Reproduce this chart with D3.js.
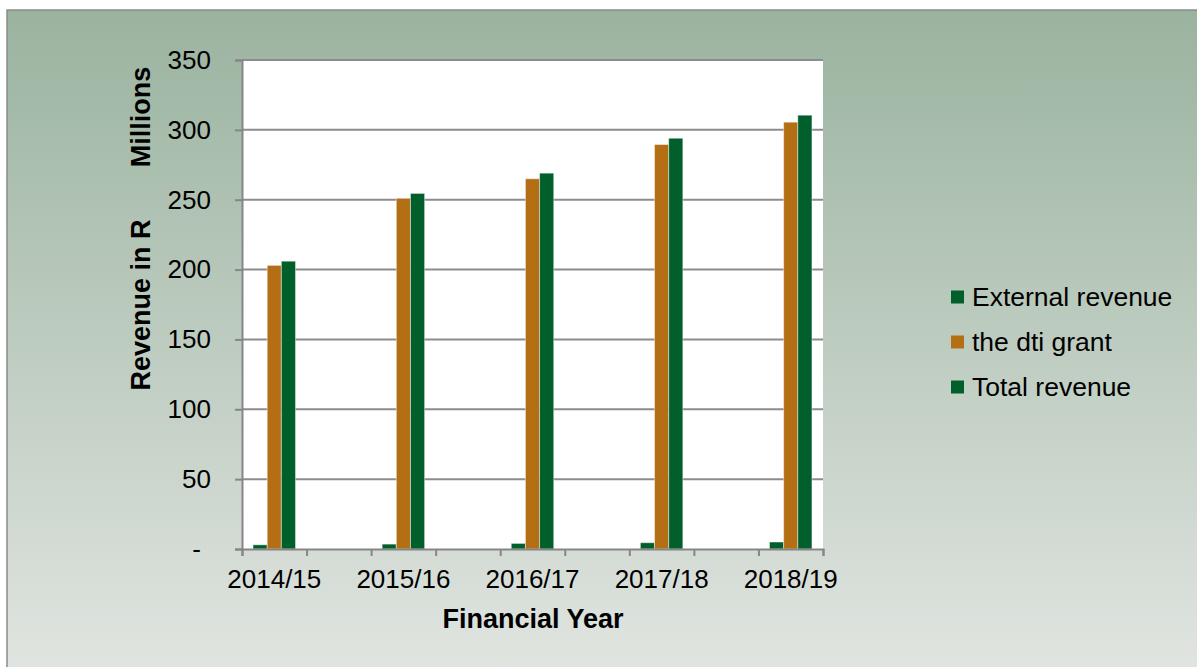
<!DOCTYPE html>
<html lang="en">
<head>
<meta charset="UTF-8">
<title>Revenue by Financial Year</title>
<script src="https://cdn.jsdelivr.net/npm/d3@7/dist/d3.min.js"></script>
<style>
  body { margin: 0; background: #fff; }
  text { font-family: "Liberation Sans", Arial, sans-serif; fill: #000; }
  .tick text { font-size: 26px; }
  .title { font-size: 27px; font-weight: bold; }
  .legend text { font-size: 26.5px; }
</style>
</head>
<body>
<script>
  // chart data (R millions)
  var years = ["2014/15", "2015/16", "2016/17", "2017/18", "2018/19"];
  var seriesNames = ["External revenue", "the dti grant", "Total revenue"];
  var external = [3.0, 3.5, 4.0, 4.5, 5.0];
  var dtiGrant = [203, 251, 265, 289.5, 305.5];
  var total = [206, 254.5, 269, 294, 310.5];
  var yTicks = [0, 50, 100, 150, 200, 250, 300, 350];

  var colors = d3.scaleOrdinal()
      .domain(seriesNames)
      .range(["#005f2b", "#b46e14", "#005f2b"]);

  var width = 1197, height = 667;
  var plotL = 242, plotR = 823, plotT = 60, plotB = 549;

  var svg = d3.select('body').append('svg')
      .attr('width', width).attr('height', height);

  var grad = svg.append('defs').append('linearGradient')
      .attr('id', 'bg').attr('x1', 0).attr('y1', 0).attr('x2', 0).attr('y2', 1);
  grad.append('stop').attr('offset', '0%').attr('stop-color', '#9ab39f');
  grad.append('stop').attr('offset', '100%').attr('stop-color', '#e1e5e1');

  svg.append('rect')
      .attr('x', 7).attr('y', 10).attr('width', width).attr('height', height)
      .attr('fill', 'url(#bg)').attr('stroke', '#8a8a8a').attr('stroke-width', 1.5);

  svg.append('rect')
      .attr('x', plotL).attr('y', plotT).attr('width', plotR - plotL).attr('height', plotB - plotT)
      .attr('fill', '#fff');

  // every year sits in its own slot with an empty slot in between
  var slots = [];
  years.forEach((yr, i) => {
    slots.push(yr);
    if (i < years.length - 1) slots.push('gap' + i);
  });

  var x0 = d3.scaleBand().domain(slots).range([plotL, plotR]);
  var x1 = d3.scaleBand().domain(seriesNames)
      .range([0, x0.bandwidth()]).paddingOuter(0.78);
  var xEdge = d3.scaleLinear().domain([0, slots.length]).range([plotL, plotR]);
  var y = d3.scaleLinear().domain([0, 350]).range([plotB, plotT]);

  // gridlines
  svg.append('g').selectAll('line')
      .data(yTicks.filter(d => d > 0))
      .enter().append('line')
      .attr('x1', plotL).attr('x2', plotR)
      .attr('y1', d => y(d)).attr('y2', d => y(d))
      .attr('stroke', '#8c8c8c').attr('stroke-width', 2);

  // bars
  var rows = years.map((yr, i) => ({
    year: yr,
    values: [external[i], dtiGrant[i], total[i]]
  }));

  var groups = svg.append('g').selectAll('g')
      .data(rows).enter().append('g')
      .attr('transform', d => 'translate(' + x0(d.year) + ',0)');

  groups.selectAll('rect')
      .data(d => d.values.map((v, k) => ({name: seriesNames[k], value: v})))
      .enter().append('rect')
      .attr('x', d => x1(d.name))
      .attr('width', x1.bandwidth())
      .attr('y', d => y(d.value))
      .attr('height', d => y(0) - y(d.value))
      .attr('fill', d => colors(d.name))
      .attr('stroke', 'rgba(255,255,255,0.45)')
      .attr('stroke-width', 1);

  // y axis
  var yAxis = svg.append('g')
      .attr('transform', 'translate(' + plotL + ',0)')
      .call(d3.axisLeft(y).tickValues(yTicks).tickSize(7).tickPadding(24)
        .tickFormat(d => d === 0 ? '-' : d));
  yAxis.select('.domain').attr('stroke', '#868686').attr('stroke-width', 2);
  yAxis.selectAll('.tick line').attr('stroke', '#868686').attr('stroke-width', 2);
  yAxis.selectAll('.tick text').filter(d => d === 0).attr('dx', -10);

  // x axis: ticks at slot edges, labels at year centres
  var xTicks = svg.append('g')
      .attr('transform', 'translate(0,' + plotB + ')')
      .call(d3.axisBottom(xEdge).tickValues(d3.range(slots.length + 1))
        .tickSize(7).tickFormat(''));
  xTicks.select('.domain').attr('stroke', '#868686').attr('stroke-width', 2);
  xTicks.selectAll('.tick line').attr('stroke', '#868686').attr('stroke-width', 2);

  var xLabels = svg.append('g')
      .attr('transform', 'translate(0,' + plotB + ')')
      .call(d3.axisBottom(x0).tickValues(years).tickSize(0).tickPadding(21));
  xLabels.select('.domain').remove();

  // titles
  svg.append('text').attr('class', 'title')
      .attr('x', 533).attr('y', 628)
      .attr('text-anchor', 'middle')
      .text('Financial Year');

  svg.append('text').attr('class', 'title')
      .attr('transform', 'translate(150,305) rotate(-90)')
      .attr('text-anchor', 'middle')
      .text('Revenue in R');

  svg.append('text').attr('class', 'title')
      .attr('transform', 'translate(150,117) rotate(-90)')
      .attr('text-anchor', 'middle')
      .text('Millions');

  // legend
  var legend = svg.append('g').attr('class', 'legend')
      .selectAll('g').data(seriesNames).enter().append('g')
      .attr('transform', (d, i) => 'translate(951,' + (297 + i * 45) + ')');
  legend.append('rect')
      .attr('x', 0).attr('y', -6.5).attr('width', 13).attr('height', 13)
      .attr('fill', d => colors(d));
  legend.append('text')
      .attr('x', 21).attr('y', 0).attr('dy', '0.35em')
      .text(d => d);
</script>
</body>
</html>
